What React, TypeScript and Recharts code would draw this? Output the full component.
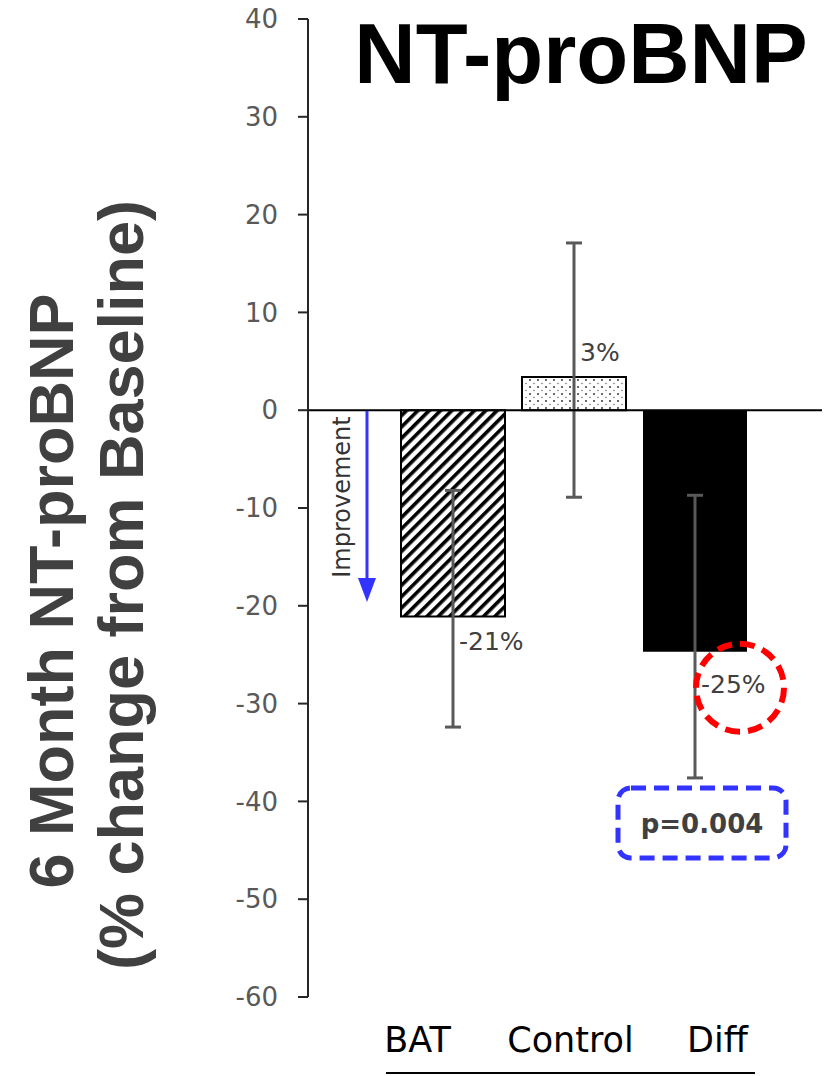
import React from 'react'
import { BarChart, Bar, XAxis, YAxis, ReferenceLine, ErrorBar, Cell, LabelList } from 'recharts'

// 6-month NT-proBNP, % change from baseline
const groups = ['BAT', 'Control', 'Diff']
const changes = [-21.1, 3.4, -24.7]
const ciLow = [-32.4, -8.9, -37.6]
const ciHigh = [-8.2, 17.1, -8.7]
const valueLabels = ['-21%', '3%', '-25%']
const yTicks = [40, 30, 20, 10, 0, -10, -20, -30, -40, -50, -60]
const pValue = 'p=0.004'

const fills = ['url(#hatch)', 'url(#dots)', '#000000']
const outlines = ['#000000', '#000000', 'none']
const labelShift = [25, -24, 33]
const tickShift = [-35, -3, 23]

const data = groups.map((g, i) => ({
  group: g,
  change: changes[i],
  err: [changes[i] - ciLow[i], ciHigh[i] - changes[i]],
  label: valueLabels[i],
}))

const GREY = '#595959'
const DARK = '#404040'
const BLUE = '#3333ff'

function CategoryTick(props: any) {
  const { x, y, payload, index } = props
  return (
    <text x={x + tickShift[index]} y={y + 55} textAnchor="middle"
      fontFamily="DejaVu Sans" fontSize={35} fill="#000">
      {payload.value}
    </text>
  )
}

function ValueLabel(props: any) {
  const vb = props.viewBox || props
  const { x, y, width, height } = vb
  const i = props.index
  const v = changes[i]
  const top = Math.min(y, y + height)
  const bottom = Math.max(y, y + height)
  const endY = v < 0 ? bottom : top
  const zeroY = v < 0 ? top : bottom
  const ppu = Math.abs(height) / Math.abs(v)
  const cx = x + width / 2
  const ly = endY + labelShift[i]
  return (
    <g>
      <text x={cx + 6} y={ly} dominantBaseline="central" fontFamily="DejaVu Sans"
        fontSize={25} fill={DARK}>
        {props.value}
      </text>
      {i === 2 && (
        <g>
          <circle cx={cx + 45} cy={ly + 3} r={44} fill="none" stroke="#ff0000"
            strokeWidth={6} strokeDasharray="15 8" />
          <rect x={cx - 77} y={zeroY - ciLow[i] * ppu + 10} width={168} height={70} rx={13}
            fill="none" stroke={BLUE} strokeWidth={5} strokeDasharray="15 8" />
          <text x={cx + 7} y={zeroY - ciLow[i] * ppu + 46} textAnchor="middle"
            dominantBaseline="central" fontFamily="DejaVu Sans" fontWeight="bold"
            fontSize={26} fill={DARK}>
            {pValue}
          </text>
        </g>
      )}
    </g>
  )
}

export default function App() {
  return (
    <div style={{ position: 'absolute', left: 0, top: 0, width: 830, height: 1076, background: '#fff' }}>
      <BarChart width={830} height={1076} data={data}
        margin={{ top: 19, right: 8, bottom: 19, left: 208 }}>
        <XAxis dataKey="group" axisLine={false} tickLine={false} tickSize={0} tickMargin={0}
          height={60} padding={{ left: 84, right: 67 }} tick={<CategoryTick />} interval={0} />
        <YAxis width={100} domain={[-60, 40]} ticks={yTicks} interval={0} tickSize={10} tickMargin={20}
          axisLine={{ stroke: '#262626', strokeWidth: 2 }} tickLine={{ stroke: '#262626', strokeWidth: 2 }}
          tick={{ fill: GREY, fontSize: 26, fontFamily: 'DejaVu Sans' }} />
        <Bar dataKey="change" barSize={104} isAnimationActive={false}>
          {data.map((d, i) => (
            <Cell key={d.group} fill={fills[i]} stroke={outlines[i]} strokeWidth={2} />
          ))}
          <ErrorBar dataKey="err" direction="y" width={8} stroke={GREY} strokeWidth={3} />
          <LabelList dataKey="label" content={<ValueLabel />} />
        </Bar>
        <ReferenceLine y={0} stroke="#000" strokeWidth={2} />
      </BarChart>
      <svg width={830} height={1076} style={{ position: 'absolute', left: 0, top: 0, pointerEvents: 'none' }}>
        <defs>
          <pattern id="hatch" patternUnits="userSpaceOnUse" width={8} height={8}
            patternTransform="rotate(45)">
            <rect x={0} y={0} width={8} height={8} fill="#fff" />
            <rect x={0} y={0} width={3.6} height={8} fill="#000" />
          </pattern>
          <pattern id="dots" patternUnits="userSpaceOnUse" width={8} height={7}>
            <rect x={0} y={0} width={8} height={7} fill="#fff" />
            <circle cx={2} cy={2} r={0.9} fill="#222" />
            <circle cx={6} cy={5.5} r={0.7} fill="#555" />
          </pattern>
        </defs>
        <text x={581} y={83} textAnchor="middle" fontFamily="Liberation Sans" fontWeight="bold"
          fontSize={85} fill="#000">NT-proBNP</text>
        <text x={73} y={591} transform="rotate(-90, 73, 591)" textAnchor="middle"
          fontFamily="Liberation Sans" fontWeight="bold" fontSize={63} fill={DARK}>
          6 Month NT-proBNP
        </text>
        <text x={143} y={585} transform="rotate(-90, 143, 585)" textAnchor="middle"
          fontFamily="Liberation Sans" fontWeight="bold" fontSize={63} fill={DARK}>
          (% change from Baseline)
        </text>
        <text x={350} y={497} transform="rotate(-90, 350, 497)" textAnchor="middle"
          fontFamily="DejaVu Sans" fontSize={24} fill="#333">Improvement</text>
        <line x1={367} y1={411} x2={367} y2={582} stroke={BLUE} strokeWidth={3} />
        <polygon points="358,578 376,578 367,602" fill={BLUE} />
        <line x1={386} y1={1073} x2={755} y2={1073} stroke="#000" strokeWidth={2} />
      </svg>
    </div>
  )
}
